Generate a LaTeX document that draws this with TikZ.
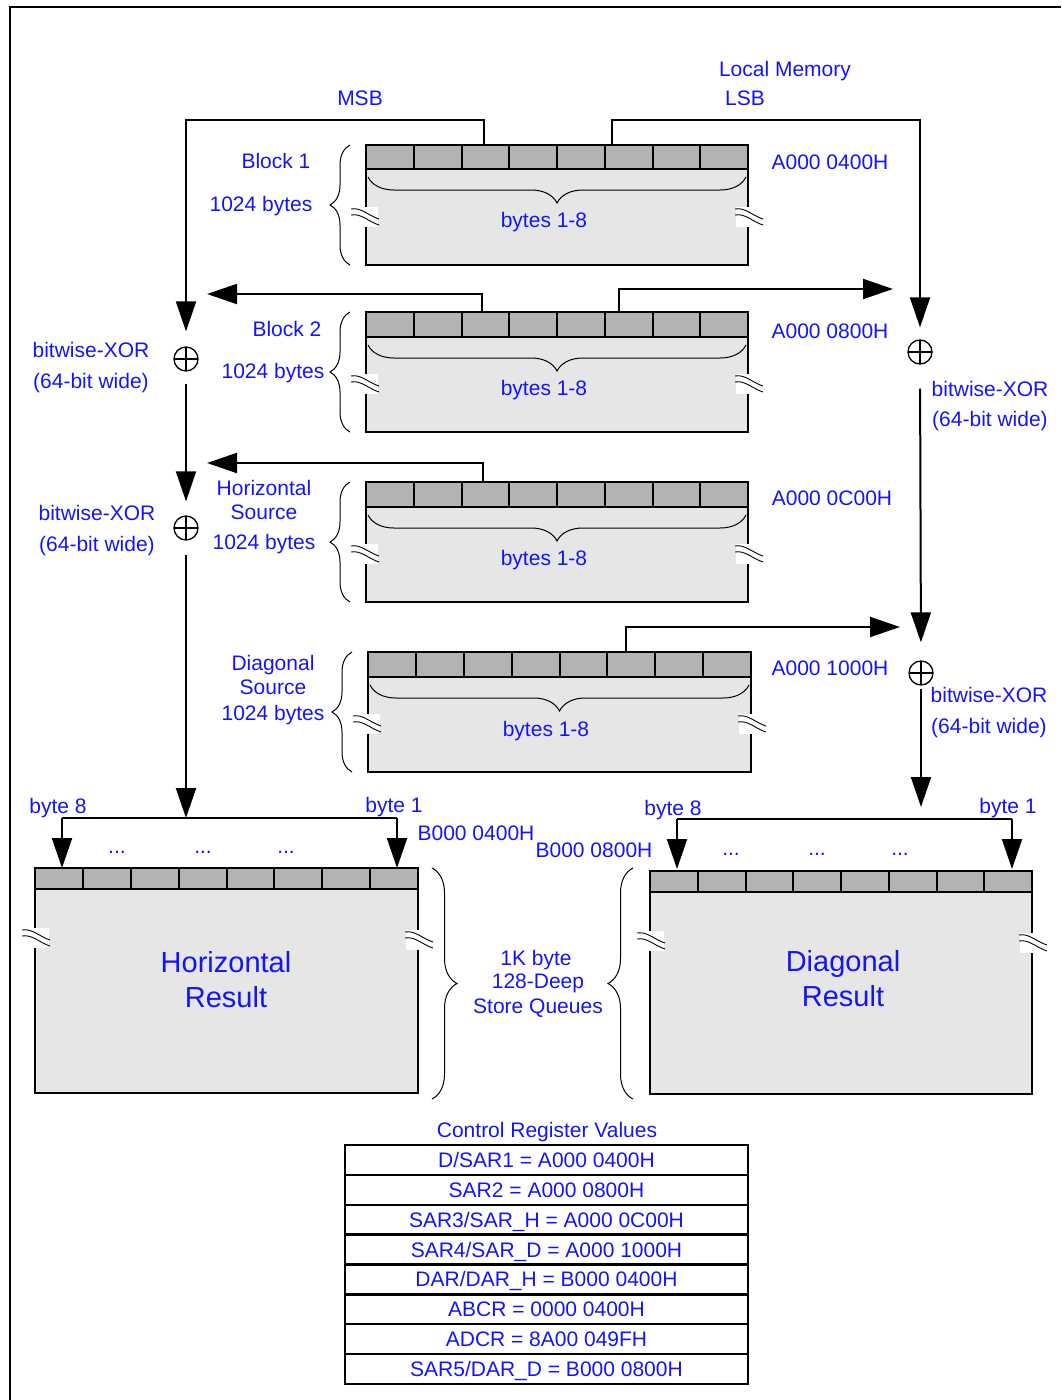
\documentclass[tikz,border=0pt]{standalone}
\usepackage{fontspec}
\setmainfont{Liberation Sans}
\usetikzlibrary{arrows.meta,decorations.pathreplacing}
\definecolor{lblue}{RGB}{20,20,250}
\definecolor{hdrgray}{RGB}{179,179,179}
\definecolor{bodygray}{RGB}{230,230,230}
\newcommand\brkmark[2]{%
  \fill[white] ({#1-13},{#2-10}) rectangle ({#1+13},{#2+10});
  \draw[line width=0.9pt] ({#1-14},{#2-8}) .. controls ({#1-4},{#2-10}) and ({#1+4},{#2-1}) .. ({#1+14},{#2+2});
  \draw[line width=0.9pt] ({#1-14},{#2-2}) .. controls ({#1-4},{#2-4}) and ({#1+4},{#2+5}) .. ({#1+14},{#2+8});
}
\newcommand\cellrow[5]{%
  \fill[bodygray] (#1,#4) rectangle (#3,#5);
  \fill[hdrgray] (#1,#2) rectangle (#3,#4);
  \foreach \k in {1,...,7}{\draw[line width=2pt] ({#1+\k*(#3-#1)/8},#2) -- ({#1+\k*(#3-#1)/8},#4);}
  \draw[line width=2.5pt] (#1,#4) -- (#3,#4);
  \draw[line width=2.5pt] (#1,#2) rectangle (#3,#5);
}
\newcommand\srcblk[5]{%
  \cellrow{#1}{#2}{#3}{#4}{#5}
  \draw[ibrc] ({#3-2},{#4+8}) -- ({#1+2},{#4+8});
  \draw[obrc] ({#1-16},{#5}) -- ({#1-16},{#2});
  \brkmark{#1-1}{#2+72}
  \brkmark{#3+1}{#2+72}
}
\newcommand\resblk[5]{%
  \cellrow{#1}{#2}{#3}{#4}{#5}
  \brkmark{#1+1}{#2+70}
  \brkmark{#3+1}{#2+72}
}
\begin{document}
\begin{tikzpicture}[x=1pt,y=-1pt,
  lbl/.style={text=lblue,font=\fontsize{21}{25}\selectfont,inner sep=0pt,text height=15pt,text depth=0pt},
  bigl/.style={text=lblue,font=\fontsize{29}{35}\selectfont,inner sep=0pt,text height=21pt,text depth=0pt},
  dotl/.style={text=lblue,font=\fontsize{21}{25}\selectfont,inner sep=0pt},
  wire/.style={line width=2pt},
  thinwire/.style={line width=1.5pt},
  arr/.style={line width=2pt,-{Triangle[length=30pt,width=20pt]}},
  xorc/.style={circle,draw,line width=1.3pt,minimum size=24pt,inner sep=0pt,
    path picture={\draw[line width=1.3pt] (path picture bounding box.north) -- (path picture bounding box.south)
      (path picture bounding box.west) -- (path picture bounding box.east);}},
  ibrc/.style={decorate,decoration={brace,amplitude=26pt},line width=1pt},
  obrc/.style={decorate,decoration={brace,amplitude=20pt},line width=1pt},
  rbrc/.style={decorate,decoration={brace,amplitude=25pt},line width=1pt},
  reg/.style={draw,line width=2.5pt,minimum width=403pt,minimum height=29.85pt,inner sep=0pt,
    text=lblue,font=\fontsize{21}{25}\selectfont,text height=15pt,text depth=0pt}
]
\useasboundingbox (0,0) rectangle (1061,1400);
% frame
\draw[line width=2.5pt] (10,1400) -- (10,7) -- (1061,7);

% memory blocks
\srcblk{366}{145}{748}{169}{265}
\srcblk{366}{312}{748}{337}{432}
\srcblk{366}{482}{748}{507}{602}
\srcblk{368}{652}{751}{677}{772}

% result blocks
\resblk{35}{868}{418}{889}{1093}
\resblk{650}{871}{1032}{892}{1094}

% store-queue braces
\draw[rbrc] (432,868) -- (432,1099);
\draw[rbrc] (633,1099) -- (633,868);

% coordinates
\coordinate (b1m) at (484,145);
\coordinate (b1l) at (612,145);
\coordinate (b2a) at (482,312);
\coordinate (b2b) at (619,312);
\coordinate (b3a) at (483,482);
\coordinate (b4a) at (626,652);
\coordinate (a2l) at (207,294);
\coordinate (a2r) at (893,289);
\coordinate (a3l) at (207,463);
\coordinate (a4r) at (900,627);
\coordinate (hbl) at (62,818);
\coordinate (hbr) at (397,818);
\coordinate (dbl) at (677,819);
\coordinate (dbr) at (1012,819);

% XOR nodes
\node[xorc] (xl1) at (186,359) {};
\node[xorc] (xl2) at (186,528) {};
\node[xorc] (xr1) at (920,352) {};
\node[xorc] (xr2) at (921,673) {};

% connectors
\draw[arr,shorten >=15pt] (b1m) -- ++(0,-25) -| (xl1.north);
\draw[arr,shorten >=12pt] (b1l) -- ++(0,-25) -| (xr1.north);
\draw[arr] (b2a) |- (a2l);
\draw[arr] (b2b) |- (a2r);
\draw[arr] (b3a) |- (a3l);
\draw[arr] (b4a) |- (a4r);
\draw[arr,shorten <=12pt,shorten >=14pt] (xl1.south) -- (xl2.north);
\draw[arr,shorten <=14pt] (xl2.south) -- (xl2.south |- hbl);
\draw[arr,shorten <=24pt,shorten >=18pt] (xr1.south) -- (xr2.north);
\draw[arr,shorten <=3pt] (xr2.south) -- (921,807);

\draw[thinwire] (hbl) -- (hbr);
\draw[arr] (hbl) -- (62,868);
\draw[arr] (hbr) -- (397,868);
\draw[thinwire] (dbl) -- (dbr);
\draw[arr] (dbl) -- (677,869);
\draw[arr] (dbr) -- (1012,869);

% labels
\node[lbl] (tlm) at (785,69) {Local Memory};
\node[lbl] (tmsb) at (360,98) {MSB};
\node[lbl] (tlsb) at (745,98) {LSB};
\node[lbl] (tb1) at (276,161) {Block 1};
\node[lbl] (tb1s) at (261,204) {1024 bytes};
\node[lbl] (ta1) at (830,162) {A000 0400H};
\node[lbl] (tb2) at (287,329) {Block 2};
\node[lbl] (tb2s) at (273,371) {1024 bytes};
\node[lbl] (ta2) at (830,331) {A000 0800H};
\node[lbl] (tx1a) at (91,350) {bitwise-XOR};
\node[lbl] (tx1b) at (91,381) {(64-bit wide)};
\node[lbl] (tx2a) at (990,389) {bitwise-XOR};
\node[lbl] (tx2b) at (990,419) {(64-bit wide)};
\node[lbl] (th1) at (264,488) {Horizontal};
\node[lbl] (th2) at (264,512) {Source};
\node[lbl] (th3) at (264,542) {1024 bytes};
\node[lbl] (ta3) at (832,498) {A000 0C00H};
\node[lbl] (tx3a) at (97,513) {bitwise-XOR};
\node[lbl] (tx3b) at (97,544) {(64-bit wide)};
\node[lbl] (td1) at (273,663) {Diagonal};
\node[lbl] (td2) at (273,687) {Source};
\node[lbl] (td3) at (273,713) {1024 bytes};
\node[lbl] (ta4) at (830,668) {A000 1000H};
\node[lbl] (tx4a) at (989,695) {bitwise-XOR};
\node[lbl] (tx4b) at (989,726) {(64-bit wide)};
\node[lbl] (tby1) at (544,220) {bytes 1-8};
\node[lbl] (tby2) at (544,388) {bytes 1-8};
\node[lbl] (tby3) at (544,558) {bytes 1-8};
\node[lbl] (tby4) at (546,729) {bytes 1-8};

\node[lbl] (thb8) at (58,806) {byte 8};
\node[lbl] (thb1) at (394,805) {byte 1};
\node[lbl] (thad) at (476,833) {B000 0400H};
\node[dotl] (thd1) at (117,852) {...};
\node[dotl] (thd2) at (203,852) {...};
\node[dotl] (thd3) at (286,852) {...};
\node[lbl] (tdb8) at (673,808) {byte 8};
\node[lbl] (tdb1) at (1008,806) {byte 1};
\node[lbl] (tdad) at (594,850) {B000 0800H};
\node[dotl] (tdd1) at (731,854) {...};
\node[dotl] (tdd2) at (817,854) {...};
\node[dotl] (tdd3) at (900,854) {...};

\node[bigl] (thr1) at (226,962) {Horizontal};
\node[bigl] (thr2) at (226,997) {Result};
\node[bigl] (tdr1) at (843,961) {Diagonal};
\node[bigl] (tdr2) at (843,996) {Result};

\node[lbl] (tsq1) at (536,958) {1K byte};
\node[lbl] (tsq2) at (538,981) {128-Deep};
\node[lbl] (tsq3) at (538,1006) {Store Queues};

% register table
\node[lbl] (tcrv) at (547,1130) {Control Register Values};
\node[reg] (r1) at (546.5,1160) {D/SAR1 = A000 0400H};
\node[reg] (r2) at (546.5,1189.85) {SAR2 = A000 0800H};
\node[reg] (r3) at (546.5,1219.7) {SAR3/SAR\_H = A000 0C00H};
\node[reg] (r4) at (546.5,1249.55) {SAR4/SAR\_D = A000 1000H};
\node[reg] (r5) at (546.5,1279.4) {DAR/DAR\_H = B000 0400H};
\node[reg] (r6) at (546.5,1309.25) {ABCR = 0000 0400H};
\node[reg] (r7) at (546.5,1339.1) {ADCR = 8A00 049FH};
\node[reg] (r8) at (546.5,1368.95) {SAR5/DAR\_D = B000 0800H};
\end{tikzpicture}
\end{document}
